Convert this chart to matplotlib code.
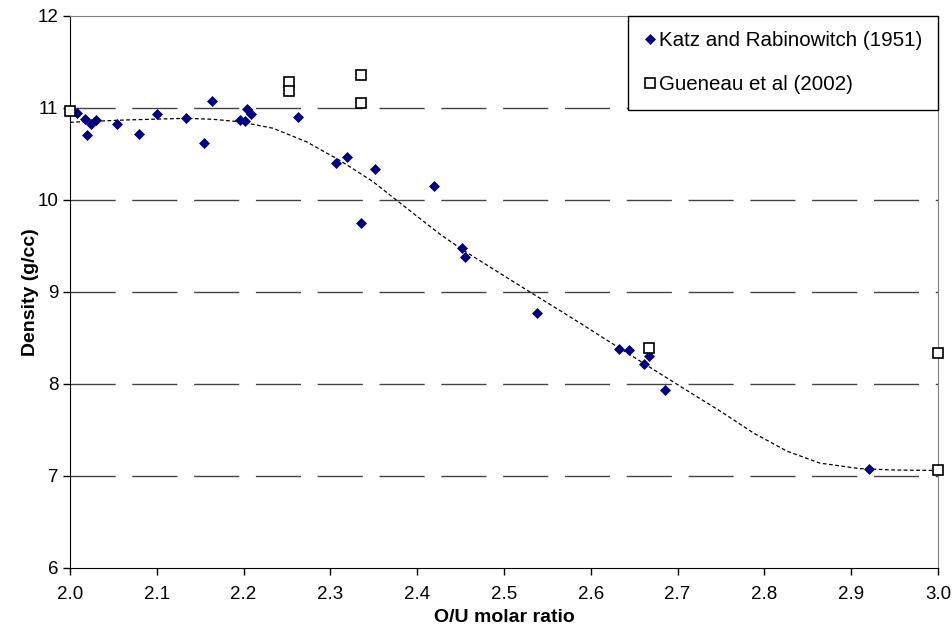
import matplotlib.pyplot as plt
import numpy as np

plt.rcParams['font.family'] = ['Liberation Sans', 'DejaVu Sans']

# Katz and Rabinowitch (1951)
katz_x = [2.008, 2.017, 2.020, 2.024, 2.030, 2.054, 2.080, 2.100, 2.134, 2.154,
          2.164, 2.196, 2.202, 2.204, 2.209, 2.263, 2.307, 2.319, 2.335, 2.351,
          2.419, 2.452, 2.455, 2.538, 2.632, 2.644, 2.661, 2.667, 2.686, 2.920]
katz_y = [10.95, 10.88, 10.71, 10.83, 10.87, 10.83, 10.72, 10.94, 10.89, 10.62,
          11.08, 10.87, 10.86, 10.99, 10.94, 10.90, 10.40, 10.47, 9.75, 10.34,
          10.15, 9.475, 9.377, 8.775, 8.384, 8.37, 8.22, 8.30, 7.94, 7.073]

# Gueneau et al (2002)
gue_x = [2.0, 2.252, 2.252, 2.335, 2.335, 2.667, 3.0, 3.0]
gue_y = [10.97, 11.28, 11.18, 11.36, 11.05, 8.395, 8.34, 7.07]

# trend line
trend_x = [2.0, 2.065, 2.134, 2.165, 2.196, 2.234, 2.273, 2.311, 2.349, 2.388,
           2.426, 2.452, 2.518, 2.588, 2.618, 2.660, 2.703, 2.750, 2.787, 2.826,
           2.864, 2.910, 2.950, 3.0]
trend_y = [10.845, 10.87, 10.888, 10.877, 10.85, 10.78, 10.63, 10.43, 10.20, 9.91,
           9.63, 9.46, 9.07, 8.66, 8.48, 8.23, 7.975, 7.70, 7.47, 7.27,
           7.14, 7.08, 7.065, 7.06]

fig = plt.figure(figsize=(9.52, 6.35), dpi=100)
ax = fig.add_axes([70/952, 1 - 568/635, 868/952, 552/635])

for yv in [7, 8, 9, 10, 11]:
    ax.axhline(yv, color='#444444', lw=1, dashes=(32.5, 12), zorder=1)

ax.plot(trend_x, trend_y, color='black', lw=0.9, dashes=(3, 2), zorder=2)

ax.plot(katz_x, katz_y, 'D', ms=5.2, color='#000080', mec='#000080', mew=0.5,
        label='Katz and Rabinowitch (1951)', clip_on=False, zorder=3)
ax.plot(gue_x, gue_y, 's', ms=6.8, mfc='white', mec='black', mew=1.2,
        label='Gueneau et al (2002)', clip_on=False, zorder=4)

ax.set_xlim(2.0, 3.0)
ax.set_ylim(6, 12)
ax.set_xticks(np.arange(2.0, 3.01, 0.1))
ax.set_xticklabels(['%.1f' % v for v in np.arange(2.0, 3.01, 0.1)])
ax.set_yticks(range(6, 13))
ax.tick_params(direction='out', length=5, width=1, labelsize=13.5, color='black')
ax.tick_params(axis='x', pad=8)

for side in ['top', 'right']:
    ax.spines[side].set_color('#808080')
for side in ['left', 'bottom']:
    ax.spines[side].set_color('black')

ax.set_xlabel('O/U molar ratio', fontsize=14, fontweight='bold', labelpad=4)
ax.set_ylabel('Density (g/cc)', fontsize=14, fontweight='bold', labelpad=-1)

leg = ax.legend(loc='upper right', bbox_to_anchor=(1.0, 1.0), borderaxespad=0,
                fontsize=14.8, numpoints=1, handlelength=0.6, handletextpad=0.15,
                labelspacing=1.2, borderpad=0.75, fancybox=False, framealpha=1)
leg.get_frame().set_edgecolor('black')
leg.get_frame().set_linewidth(1)

fig.savefig('out.png', dpi=100)
